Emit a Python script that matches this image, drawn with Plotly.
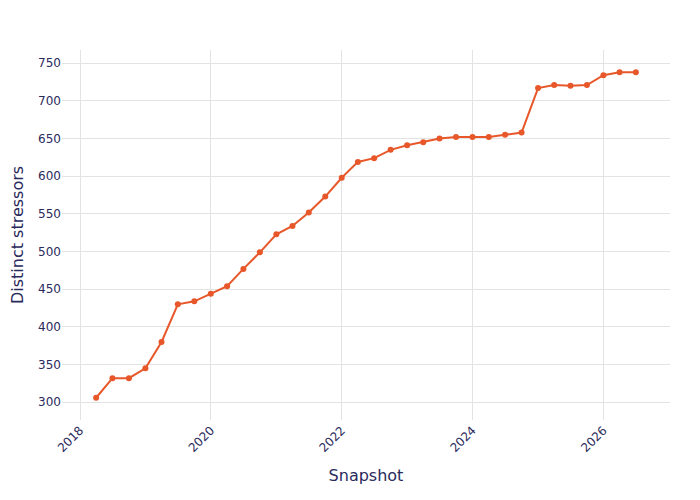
import plotly.graph_objects as go

snapshots = [
    "2018-04-01", "2018-07-01", "2018-10-01",
    "2019-01-01", "2019-04-01", "2019-07-01", "2019-10-01",
    "2020-01-01", "2020-04-01", "2020-07-01", "2020-10-01",
    "2021-01-01", "2021-04-01", "2021-07-01", "2021-10-01",
    "2022-01-01", "2022-04-01", "2022-07-01", "2022-10-01",
    "2023-01-01", "2023-04-01", "2023-07-01", "2023-10-01",
    "2024-01-01", "2024-04-01", "2024-07-01", "2024-10-01",
    "2025-01-01", "2025-04-01", "2025-07-01", "2025-10-01",
    "2026-01-01", "2026-04-01", "2026-07-01",
]
stressors = [
    306, 332, 332,
    345, 380, 430, 434,
    444, 454, 477, 499,
    523, 534, 552, 573,
    598, 619, 624, 635,
    641, 645, 650, 652,
    652, 652, 655, 658,
    717, 721, 720, 721,
    734, 738, 738,
]

text_color = "#2a2a5c"
line_color = "#E8572A"

fig = go.Figure(go.Scatter(
    x=snapshots, y=stressors, mode="lines+markers",
    line=dict(color=line_color, width=2),
    marker=dict(color=line_color, size=6),
))

fig.update_layout(
    width=700, height=500,
    margin=dict(l=54, r=38, t=42, b=88),
    paper_bgcolor="white", plot_bgcolor="white",
    font=dict(family="DejaVu Sans", color=text_color, size=12),
    showlegend=False,
    xaxis=dict(
        title=dict(text="Snapshot", font=dict(size=16)),
        type="date", dtick="M24", tick0="2018-01-01", tickformat="%Y",
        tickangle=-45,
        showgrid=True, gridcolor="#e3e3e3", zeroline=False, showline=False,
        automargin=False,
    ),
    yaxis=dict(
        title=dict(text="Distinct stressors", font=dict(size=16)),
        dtick=50,
        showgrid=True, gridcolor="#e3e3e3", zeroline=False, showline=False,
        automargin=False,
    ),
)

fig.write_html("out.html")
